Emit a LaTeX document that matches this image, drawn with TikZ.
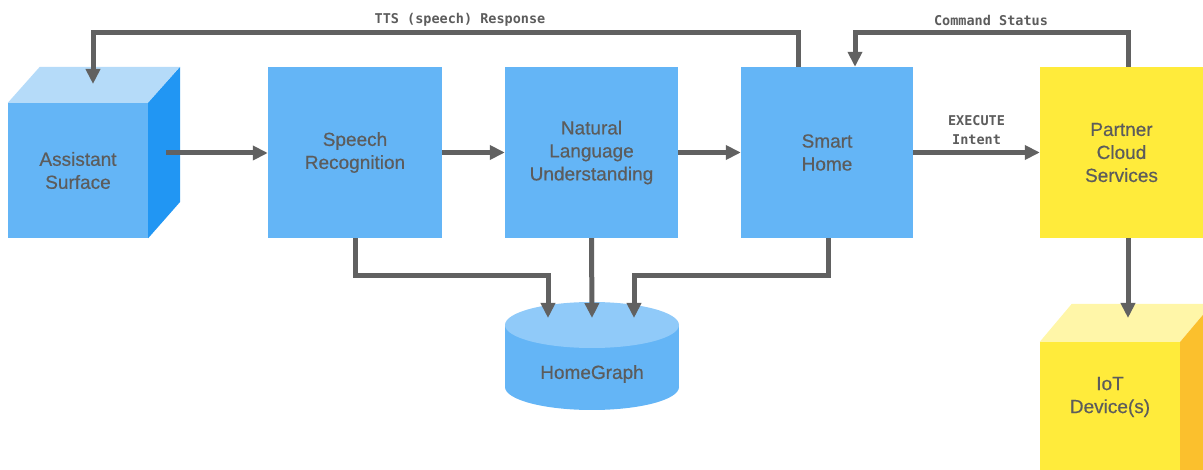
\documentclass[tikz,border=0pt]{standalone}
\usepackage{fontspec}
\setmainfont{Liberation Sans}
\newfontfamily\blockfont[FakeBold=0.5]{Liberation Sans}
\newfontfamily\monofont{DejaVu Sans Mono}
\usepackage{tikz}
\usetikzlibrary{arrows.meta}

\definecolor{boxblue}{HTML}{64B5F6}
\definecolor{topblue}{HTML}{B5DBF9}
\definecolor{sideblue}{HTML}{2196F3}
\definecolor{capblue}{HTML}{90CAF9}
\definecolor{boxyellow}{HTML}{FFEB3B}
\definecolor{topyellow}{HTML}{FFF6A8}
\definecolor{sideyellow}{HTML}{FBC02D}
\definecolor{inkgray}{HTML}{5C5C5C}
\definecolor{flowgray}{HTML}{616161}

\begin{document}
\begin{tikzpicture}[x=1pt,y=-1pt]
	\tikzstyle{block}=[rectangle,inner sep=0pt,align=center,text=inkgray,font=\blockfont\fontsize{19}{23}\selectfont]
	\tikzstyle{service}=[block,fill=boxblue,minimum height=171pt]
	\tikzstyle{partnerbox}=[block,fill=boxyellow,minimum height=171pt]
	\tikzstyle{tag}=[align=center,text=inkgray,font=\monofont\bfseries\fontsize{13.5}{19}\selectfont,inner sep=2pt]
	\tikzstyle{flow}=[line width=5pt,flowgray,-{Triangle[length=15pt,width=14pt]}]
	\useasboundingbox (0,0) rectangle (1203,470);
	\clip (0,0) rectangle (1203,470);
	% front faces
	\node (surface) at (78,170.5) [block,fill=boxblue,minimum width=140pt,minimum height=135pt] {Assistant\\Surface};
	\node (speech) at (355,152.5) [service,minimum width=174pt] {Speech\\Recognition};
	\node (nlu) at (591.5,152.5) [service,minimum width=173pt] {Natural\\Language\\Understanding};
	\node (smarthome) at (827,152.5) [service,minimum width=172pt] {Smart\\Home};
	\node (partner) at (1121.5,152.5) [partnerbox,minimum width=163pt] {Partner\\Cloud\\Services};
	\node (iot) at (1110,421) [block,fill=boxyellow,minimum width=140pt,minimum height=158pt] {};
	\node (iotlabel) at (1110,397) [block] {IoT\\Device(s)};
	% cube tops and sides
	\fill[topblue] (surface.north west) -- ++(32,-36) -- ++(140,0) -- (surface.north east) -- cycle;
	\fill[sideblue] (surface.north east) -- ++(32,-36) -- ++(0,135) -- (surface.south east) -- cycle;
	\fill[topyellow] (iot.north west) -- ++(32,-38) -- ++(140,0) -- (iot.north east) -- cycle;
	\fill[sideyellow] (iot.north east) -- ++(32,-38) -- ++(0,200) -- (iot.south east) -- cycle;
	% homegraph cylinder
	\fill[boxblue] (505,325) rectangle (679,387);
	\fill[boxblue] (592,387) ellipse [x radius=87,y radius=23];
	\fill[capblue] (592,325) ellipse [x radius=87,y radius=23];
	\node (homegraph) at (592,374) [block] {HomeGraph};
	\coordinate (hgtop) at (592,318);
	\coordinate (surfaceout) at (166,153);
	\coordinate (surfacein) at (93,84);
	\coordinate (iotin) at (1128,318);
	% connectors
	\draw [flow] (surfaceout) -- (surfaceout -| speech.west);
	\draw [flow] (speech.east) -- (nlu.west);
	\draw [flow] (nlu.east) -- (smarthome.west);
	\draw [flow] (smarthome.east) -- node [tag,above=3pt] {EXECUTE\\Intent} (partner.west);
	\draw [flow] ([xshift=-29pt]smarthome.north) -- ++(0,-34) -| (surfacein);
	\draw [flow] ([xshift=6.5pt]partner.north) -- ++(0,-34) -| ([xshift=28pt]smarthome.north);
	\draw [flow] ([xshift=6.5pt]partner.south) -- (iotin);
	\draw [flow] (speech.south) -- ++(0,37) -| ([xshift=-44pt]hgtop);
	\draw [flow] (nlu.south) -- (hgtop);
	\draw [flow] ([xshift=1pt]smarthome.south) -- ++(0,37) -| ([xshift=42pt]hgtop);
	\node (ttslabel) at (460,20) [tag] {TTS (speech) Response};
	\node (statuslabel) at (991,20) [tag] {Command Status};
\end{tikzpicture}
\end{document}
